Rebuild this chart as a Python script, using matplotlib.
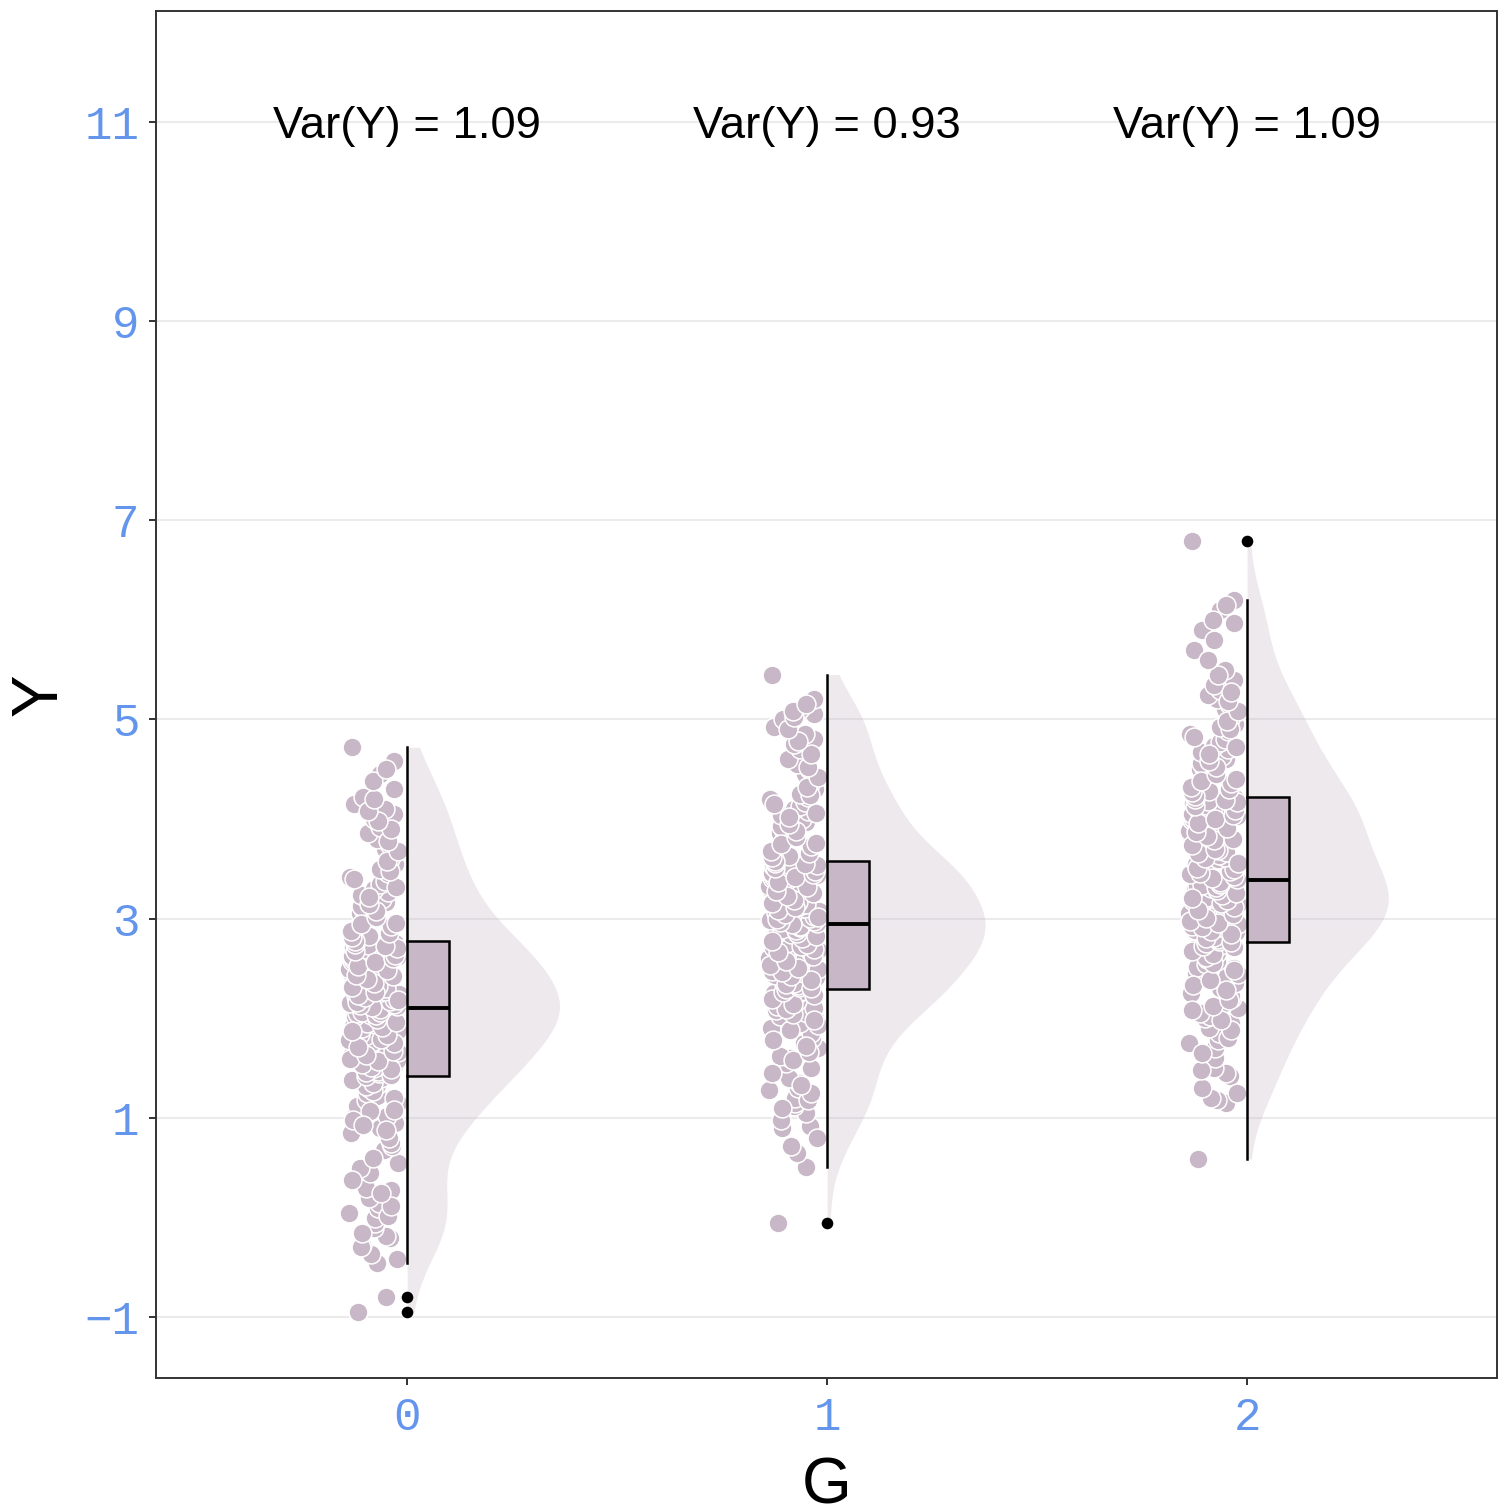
import numpy as np
import matplotlib
matplotlib.use('Agg')
import matplotlib.pyplot as plt
from matplotlib import cbook
from matplotlib.patches import Rectangle

# Groups and their observed Y values
groups = [0, 1, 2]

y_g0 = [-0.95, -0.80, -0.46, -0.37, -0.28, -0.20, -0.18, -0.10, -0.05, 0.00,
        0.05, 0.10, 0.15, 0.20, 0.28, 0.30, 0.45, 0.50, 0.55, 0.68,
        0.72, 0.75, 0.85, 0.90, 0.95, 1.00, 1.02, 1.05, 1.10, 1.12,
        1.18, 1.22, 1.25, 1.30, 1.33, 1.37, 1.40,
        -0.42, -0.30, -0.15, 0.02, 0.12, 0.25, 0.38, 0.60, 0.80, 0.88,
        0.98, 1.07, 1.15, 1.20, 1.27, 1.32, 1.35, 1.38, 1.08, 0.93,
        1.42, 1.45, 1.47, 1.50, 1.52, 1.55, 1.58, 1.60, 1.62, 1.64,
        1.66, 1.68, 1.70, 1.72, 1.74, 1.76, 1.78, 1.80, 1.82, 1.84,
        1.86, 1.88, 1.90, 1.92, 1.94, 1.95, 1.97, 1.98, 2.00, 2.01,
        2.02, 2.03, 2.04, 2.05, 2.06, 2.07, 2.08, 2.10,
        1.43, 1.46, 1.49, 1.51, 1.54, 1.57, 1.59, 1.63, 1.67, 1.71,
        1.75, 1.79, 1.83, 1.87, 1.91, 1.96, 1.99, 2.035, 2.065, 2.09,
        2.12, 2.14, 2.15, 2.17, 2.19, 2.20, 2.22, 2.24, 2.25, 2.27,
        2.29, 2.30, 2.32, 2.34, 2.36, 2.38, 2.40, 2.42, 2.44, 2.45,
        2.47, 2.49, 2.50, 2.52, 2.54, 2.56, 2.58, 2.60, 2.62, 2.63,
        2.65, 2.67, 2.69, 2.70, 2.72, 2.74, 2.76,
        2.11, 2.13, 2.16, 2.18, 2.21, 2.23, 2.26, 2.31, 2.35, 2.39,
        2.43, 2.48, 2.53, 2.57, 2.61, 2.64, 2.68, 2.71, 2.73, 2.75,
        2.80, 2.83, 2.86, 2.90, 2.93, 2.96, 3.00, 3.03, 3.06, 3.10,
        3.13, 3.17, 3.20, 3.24, 3.27, 3.30, 3.35, 3.38, 3.42, 3.46,
        3.50, 3.55, 3.60, 3.65, 3.70, 3.75, 3.80, 3.86, 3.92, 4.00,
        4.05, 4.10, 4.15, 4.22, 4.30, 4.45, 4.58, 4.72,
        2.78, 2.82, 2.88, 2.95, 3.02, 3.08, 3.15, 3.22, 3.32, 3.40,
        3.48, 3.58, 3.68, 3.78, 3.90, 3.98, 4.08, 4.20, 4.38, 4.50]

y_g1 = [-0.05, 0.51, 0.65, 0.72, 0.90, 0.92, 1.05, 1.12, 1.15, 1.20,
        1.28, 1.30, 1.35, 1.40, 1.50, 1.55, 1.60, 1.62, 1.70, 1.75,
        1.80, 1.85, 1.90, 1.95, 2.00, 2.02, 2.05, 2.08, 2.10, 2.12,
        2.15, 2.17, 2.20, 2.22, 2.24, 2.25, 2.27,
        0.80, 0.98, 1.10, 1.18, 1.25, 1.33, 1.45, 1.58, 1.66, 1.72,
        1.78, 1.88, 1.93, 1.98, 2.04, 2.09, 2.14, 2.19, 2.23, 2.26,
        2.29, 2.31, 2.33, 2.35, 2.37, 2.39, 2.41, 2.43, 2.45, 2.47,
        2.49, 2.51, 2.53, 2.55, 2.57, 2.59, 2.61, 2.62, 2.64, 2.66,
        2.68, 2.69, 2.71, 2.72, 2.74, 2.76, 2.77, 2.79, 2.80, 2.82,
        2.84, 2.85, 2.87, 2.88, 2.90, 2.91, 2.92, 2.94,
        2.30, 2.34, 2.38, 2.42, 2.46, 2.50, 2.54, 2.58, 2.63, 2.67,
        2.70, 2.73, 2.75, 2.78, 2.81, 2.83, 2.86, 2.89, 2.915, 2.93,
        2.96, 2.98, 2.99, 3.01, 3.03, 3.04, 3.06, 3.08, 3.10, 3.11,
        3.13, 3.15, 3.17, 3.18, 3.20, 3.22, 3.24, 3.26, 3.27, 3.29,
        3.31, 3.33, 3.35, 3.36, 3.38, 3.40, 3.41, 3.43, 3.44, 3.46,
        3.47, 3.49, 3.50, 3.52, 3.53, 3.55, 3.56,
        2.95, 2.97, 3.00, 3.02, 3.05, 3.09, 3.12, 3.16, 3.19, 3.23,
        3.28, 3.32, 3.37, 3.42, 3.45, 3.48, 3.51, 3.54, 3.545, 3.555,
        3.60, 3.63, 3.66, 3.70, 3.73, 3.76, 3.80, 3.83, 3.86, 3.90,
        3.93, 3.97, 4.00, 4.04, 4.08, 4.10, 4.13, 4.17, 4.20, 4.22,
        4.25, 4.30, 4.35, 4.40, 4.45, 4.50, 4.55, 4.60, 4.70, 4.75,
        4.80, 4.85, 4.92, 5.00, 5.05, 5.10, 5.20, 5.45,
        3.58, 3.62, 3.68, 3.75, 3.82, 3.88, 3.95, 4.02, 4.06, 4.15,
        4.24, 4.32, 4.42, 4.52, 4.65, 4.78, 4.90, 5.02, 5.08, 5.15]

y_g2 = [0.59, 1.15, 1.18, 1.20, 1.30, 1.42, 1.45, 1.50, 1.60, 1.70,
        1.75, 1.78, 1.85, 1.90, 1.95, 2.00, 2.02, 2.05, 2.10, 2.15,
        2.20, 2.22, 2.25, 2.30, 2.35, 2.40, 2.42, 2.45, 2.50, 2.52,
        2.55, 2.58, 2.60, 2.63, 2.66, 2.70, 2.74,
        1.25, 1.48, 1.65, 1.80, 1.88, 1.98, 2.08, 2.12, 2.18, 2.28,
        2.33, 2.38, 2.44, 2.48, 2.56, 2.62, 2.65, 2.68, 2.72, 2.73,
        2.76, 2.78, 2.80, 2.82, 2.84, 2.86, 2.87, 2.89, 2.91, 2.93,
        2.95, 2.97, 2.99, 3.00, 3.02, 3.04, 3.06, 3.08, 3.10, 3.11,
        3.13, 3.15, 3.17, 3.18, 3.20, 3.22, 3.23, 3.25, 3.27, 3.28,
        3.30, 3.31, 3.32, 3.33, 3.34, 3.35, 3.36, 3.38,
        2.77, 2.81, 2.85, 2.88, 2.92, 2.96, 2.98, 3.01, 3.05, 3.09,
        3.12, 3.16, 3.19, 3.21, 3.24, 3.26, 3.29, 3.315, 3.345, 3.37,
        3.40, 3.43, 3.45, 3.48, 3.50, 3.52, 3.55, 3.57, 3.60, 3.62,
        3.64, 3.67, 3.69, 3.71, 3.73, 3.76, 3.78, 3.80, 3.82, 3.84,
        3.86, 3.88, 3.90, 3.92, 3.95, 3.97, 3.99, 4.01, 4.03, 4.05,
        4.08, 4.10, 4.12, 4.14, 4.16, 4.18, 4.21,
        3.41, 3.46, 3.51, 3.56, 3.61, 3.66, 3.70, 3.74, 3.79, 3.83,
        3.87, 3.91, 3.96, 4.00, 4.04, 4.09, 4.13, 4.17, 4.19, 4.20,
        4.25, 4.28, 4.30, 4.33, 4.36, 4.40, 4.43, 4.46, 4.50, 4.53,
        4.56, 4.60, 4.63, 4.67, 4.70, 4.73, 4.77, 4.80, 4.85, 4.88,
        4.92, 4.95, 5.00, 5.05, 5.10, 5.15, 5.20, 5.25, 5.30, 5.35,
        5.40, 5.50, 5.70, 5.90, 5.97, 6.10, 6.20, 6.79,
        4.23, 4.27, 4.32, 4.38, 4.45, 4.52, 4.58, 4.65, 4.72, 4.82,
        4.90, 4.98, 5.08, 5.18, 5.28, 5.45, 5.60, 5.80, 6.00, 6.15]

var_labels = ['Var(Y) = 1.09', 'Var(Y) = 0.93', 'Var(Y) = 1.09']
y_ticks = [-1, 1, 3, 5, 7, 9, 11]

FILL = '#c8b7c6'
TICK_BLUE = '#6495ed'
GRID = '#ebebeb'
SANS = ['Liberation Sans', 'DejaVu Sans']
MONO = ['Liberation Mono', 'DejaVu Sans Mono']


def kde(vals, grid):
    # gaussian kernel, bandwidth like R's bw.nrd0
    vals = np.asarray(vals)
    n = len(vals)
    iqr = np.subtract(*np.percentile(vals, [75, 25]))
    bw = 0.9 * min(vals.std(ddof=1), iqr / 1.34) * n ** -0.2
    z = (grid[:, None] - vals[None, :]) / bw
    return np.exp(-0.5 * z ** 2).sum(axis=1) / (n * bw * np.sqrt(2 * np.pi))


def jitter(n, lo=-0.14, hi=-0.02):
    # deterministic scatter of x offsets (hash of the index)
    i = np.arange(n)
    h = np.sin(i * 12.9898 + 78.233) * 43758.5453
    return lo + (hi - lo) * (h - np.floor(h))


data = [np.array(y_g0), np.array(y_g1), np.array(y_g2)]

fig = plt.figure(figsize=(14.98, 15.10), dpi=100)
ax = fig.add_axes([156 / 1498, 132 / 1510, 1341 / 1498, 1367 / 1510])

# half violins, scaled so all groups share one density scale
grids, dens = [], []
for vals in data:
    yy = np.linspace(vals.min(), vals.max(), 400)
    grids.append(yy)
    dens.append(kde(vals, yy))
dmax = max(d.max() for d in dens)
half_width = 0.376

for g, yy, d in zip(groups, grids, dens):
    ax.fill_betweenx(yy, g, g + d / dmax * half_width, color=FILL, alpha=0.3,
                     linewidth=0, zorder=2)

# jittered rain
for g, vals in zip(groups, data):
    ax.scatter(g + jitter(len(vals)), vals, s=185, color=FILL,
               edgecolor='white', linewidth=1.1, zorder=3)

# boxplots sitting just right of the group position
for g, vals in zip(groups, data):
    st = cbook.boxplot_stats(vals)[0]
    ax.add_patch(Rectangle((g, st['q1']), 0.1, st['q3'] - st['q1'],
                           facecolor=FILL, edgecolor='black', linewidth=1.8,
                           zorder=4))
    ax.plot([g, g + 0.1], [st['med'], st['med']], color='black', lw=2.8,
            solid_capstyle='butt', zorder=5)
    ax.plot([g, g], [st['whislo'], st['q1']], color='black', lw=1.8, zorder=4)
    ax.plot([g, g], [st['q3'], st['whishi']], color='black', lw=1.8, zorder=4)
    fl = st['fliers']
    ax.scatter(np.full(len(fl), g), fl, s=70, color='black', linewidth=0,
               zorder=6)

for g, lab in zip(groups, var_labels):
    ax.text(g, 10.95, lab, ha='center', va='center', fontsize=32.7,
            family=SANS, color='black', zorder=7)

ax.set_xlim(-0.598, 2.595)
ax.set_ylim(-1.61, 12.11)
ax.set_xticks(groups)
ax.set_xticklabels([str(g) for g in groups])
ax.set_yticks(y_ticks)
ax.set_yticklabels([str(t).replace('-', '\u2212') for t in y_ticks])
ax.yaxis.grid(True, color=GRID, linewidth=1.5, zorder=0)
ax.set_axisbelow(True)
ax.tick_params(axis='both', length=5, width=1.4, color='#333333',
               labelsize=33, labelcolor=TICK_BLUE)
ax.tick_params(axis='y', pad=7)
ax.tick_params(axis='x', pad=8)
for lab in ax.get_xticklabels() + ax.get_yticklabels():
    lab.set_family(MONO)
for sp in ax.spines.values():
    sp.set_color('#333333')
    sp.set_linewidth(1.4)

fig.text(40 / 1498, 1 - 695 / 1510, 'Y', rotation=90, ha='center',
         va='center', fontsize=46, family=SANS)
fig.text(827 / 1498, 6 / 1510, 'G', ha='center', va='baseline',
         fontsize=46, family=SANS)

fig.savefig('out.png', dpi=100)
